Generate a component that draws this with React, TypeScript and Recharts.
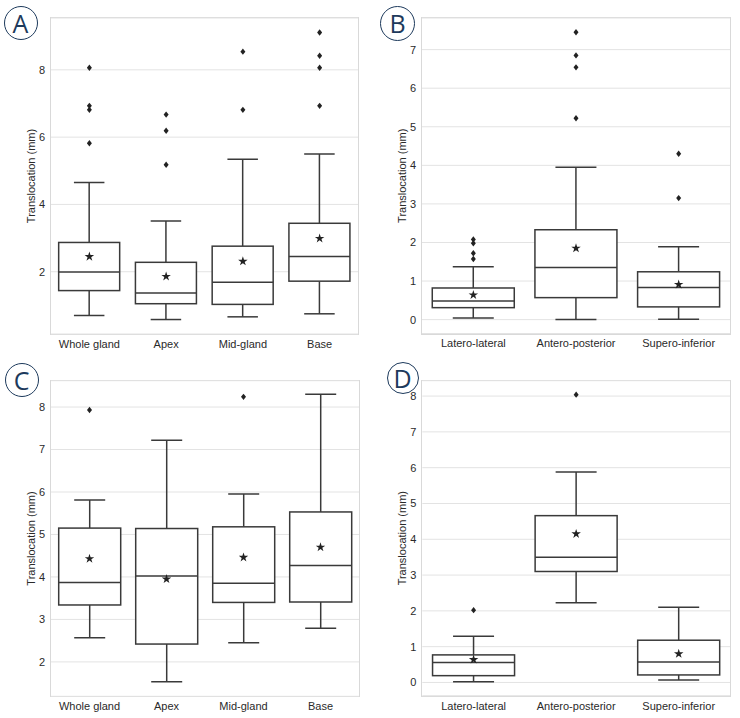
import React from 'react';
import { ComposedChart, Bar, Scatter, XAxis, YAxis, CartesianGrid, Symbols } from 'recharts';

const glandGroups = ['Whole gland', 'Apex', 'Mid-gland', 'Base'];
const axisGroups = ['Latero-lateral', 'Antero-posterior', 'Supero-inferior'];

// A: translocation by gland region
const lowA = [0.70, 0.58, 0.66, 0.75];
const q1A = [1.44, 1.05, 1.03, 1.72];
const medA = [1.99, 1.37, 1.69, 2.45];
const q3A = [2.87, 2.28, 2.76, 3.44];
const highA = [4.65, 3.51, 5.34, 5.50];
const meanA = [2.45, 1.86, 2.31, 2.99];
const outA = [[8.06, 6.93, 6.81, 5.82], [6.67, 6.19, 5.18], [8.54, 6.81], [9.11, 8.42, 8.06, 6.93]];
const ticksA = [2, 4, 6, 8];

// B: translocation by direction
const lowB = [0.04, 0.0, 0.01];
const q1B = [0.31, 0.57, 0.33];
const medB = [0.48, 1.35, 0.83];
const q3B = [0.82, 2.33, 1.24];
const highB = [1.37, 3.95, 1.89];
const meanB = [0.64, 1.85, 0.91];
const outB = [[2.08, 1.98, 1.72, 1.57], [7.45, 6.85, 6.54, 5.22], [4.30, 3.15]];
const ticksB = [0, 1, 2, 3, 4, 5, 6, 7];

// C: translocation by gland region
const lowC = [2.57, 1.53, 2.45, 2.79];
const q1C = [3.34, 2.42, 3.40, 3.41];
const medC = [3.87, 4.02, 3.85, 4.27];
const q3C = [5.15, 5.14, 5.18, 5.53];
const highC = [5.81, 7.22, 5.95, 8.30];
const meanC = [4.43, 3.95, 4.46, 4.70];
const outC = [[7.93], [], [8.24], []];
const ticksC = [2, 3, 4, 5, 6, 7, 8];

// D: translocation by direction
const lowD = [0.02, 2.23, 0.07];
const q1D = [0.19, 3.10, 0.21];
const medD = [0.56, 3.50, 0.57];
const q3D = [0.77, 4.66, 1.18];
const highD = [1.29, 5.88, 2.10];
const meanD = [0.64, 4.15, 0.80];
const outD = [[2.02], [8.04], []];
const ticksD = [0, 1, 2, 3, 4, 5, 6, 7, 8];

const LINE = '#3a3a3a';
const DOT = '#222';
const TEXT = '#2a2a2a';
const NAVY = '#1d3a5c';
const FONT = '"Liberation Sans", Arial, sans-serif';
const OUT_SLOTS = [0, 1, 2, 3];

function buildRows(groups: string[], low: number[], q1: number[], med: number[], q3: number[],
  high: number[], mean: number[], outliers: number[][]) {
  return groups.map((name, i) => {
    const row: Record<string, unknown> = {
      name, range: [low[i], high[i]], lo: low[i], hi: high[i],
      q1: q1[i], med: med[i], q3: q3[i], mean: mean[i],
    };
    outliers[i].forEach((v, k) => { row[`o${k}`] = v; });
    return row;
  });
}

function BoxShape(props: any) {
  const { x, y, width, height, payload } = props;
  const lo = payload.lo as number;
  const hi = payload.hi as number;
  const top = Math.min(y, y + height);
  const bot = Math.max(y, y + height);
  const py = (v: number) => bot - ((v - lo) / (hi - lo)) * (bot - top);
  const cx = x + width / 2;
  const cap = width / 4;
  const yq1 = py(payload.q1);
  const yq3 = py(payload.q3);
  return (
    <g stroke={LINE} strokeWidth={1.5}>
      <line x1={cx} x2={cx} y1={top} y2={yq3} />
      <line x1={cx} x2={cx} y1={yq1} y2={bot} />
      <line x1={cx - cap} x2={cx + cap} y1={top} y2={top} />
      <line x1={cx - cap} x2={cx + cap} y1={bot} y2={bot} />
      <rect x={x} y={yq3} width={width} height={yq1 - yq3} fill="#fff" />
      <line x1={x} x2={x + width} y1={py(payload.med)} y2={py(payload.med)} />
    </g>
  );
}

function StarShape(props: any) {
  return <Symbols cx={props.cx} cy={props.cy} type="star" size={28} fill={DOT} />;
}

function outlierShape(key: string) {
  return (props: any) => {
    if (props.payload?.[key] == null || !Number.isFinite(props.cy)) return <g />;
    const { cx, cy } = props;
    return <path d={`M${cx},${cy - 3.2}L${cx + 2.5},${cy}L${cx},${cy + 3.2}L${cx - 2.5},${cy}Z`} fill={DOT} />;
  };
}

interface PanelProps {
  letter: string;
  left: number;
  top: number;
  plot: { l: number; t: number; r: number; b: number };
  rows: Record<string, unknown>[];
  domain: [number, number];
  ticks: number[];
  letterPos: { x: number; y: number; d: number };
}

function BoxPanel({ letter, left, top, plot, rows, domain, ticks, letterPos }: PanelProps) {
  const W = 370;
  const H = 360;
  const yW = 50;
  const xH = 20;
  const margin = { left: plot.l - yW, top: plot.t, right: W - plot.r, bottom: H - plot.b - xH };
  return (
    <div style={{ position: 'absolute', left, top, width: W, height: H }}>
      <div style={{
        position: 'absolute', left: plot.l - 1, top: plot.t - 1, width: plot.r - plot.l,
        height: plot.b - plot.t, border: '1px solid #d9d9d9',
      }} />
      <div style={{
        position: 'absolute', left: letterPos.x - letterPos.d / 2, top: letterPos.y - letterPos.d / 2,
        width: letterPos.d - 3, height: letterPos.d - 3, borderRadius: '50%', border: `1.5px solid ${NAVY}`,
        color: NAVY, fontFamily: '"Open Sans", sans-serif', fontSize: 25, lineHeight: `${letterPos.d - 3}px`,
        textAlign: 'center',
      }}>{letter}</div>
      <div style={{ position: 'absolute', left: 0, top: 0 }}>
        <ComposedChart width={W} height={H} data={rows} margin={margin} barCategoryGap="10%">
          <CartesianGrid vertical={false} stroke="#e3e3e3" />
          <XAxis dataKey="name" type="category" height={xH} axisLine={false} tickLine={false} tickSize={0}
            tickMargin={6} interval={0} tick={{ fill: TEXT, fontSize: 11, fontFamily: FONT }} />
          <YAxis type="number" width={yW} domain={domain} allowDataOverflow ticks={ticks} interval={0}
            axisLine={false} tickLine={false} tickSize={0} tickMargin={6}
            tick={{ fill: TEXT, fontSize: 11, fontFamily: FONT }}
            label={{
              value: 'Translocation (mm)', angle: -90, position: 'center', dx: 5,
              style: { fill: TEXT, fontSize: 11, fontFamily: FONT },
            }} />
          <Bar dataKey="range" shape={BoxShape} isAnimationActive={false} />
          {OUT_SLOTS.map((k) => (
            <Scatter key={k} dataKey={`o${k}`} shape={outlierShape(`o${k}`)} isAnimationActive={false} />
          ))}
          <Scatter dataKey="mean" shape={StarShape} isAnimationActive={false} />
        </ComposedChart>
      </div>
    </div>
  );
}

export default function App() {
  return (
    <div style={{ position: 'absolute', left: 0, top: 0, width: 740, height: 718, background: '#fff' }}>
      <BoxPanel letter="A" left={0} top={0} plot={{ l: 51, t: 18, r: 358, b: 334 }}
        rows={buildRows(glandGroups, lowA, q1A, medA, q3A, highA, meanA, outA)}
        domain={[0.15, 9.54]} ticks={ticksA} letterPos={{ x: 21, y: 23, d: 35 }} />
      <BoxPanel letter="B" left={370} top={0} plot={{ l: 52, t: 18, r: 360, b: 333.5 }}
        rows={buildRows(axisGroups, lowB, q1B, medB, q3B, highB, meanB, outB)}
        domain={[-0.36, 7.82]} ticks={ticksB} letterPos={{ x: 28, y: 23.5, d: 36 }} />
      <BoxPanel letter="C" left={0} top={358} plot={{ l: 51, t: 22.7, r: 359, b: 338.3 }}
        rows={buildRows(glandGroups, lowC, q1C, medC, q3C, highC, meanC, outC)}
        domain={[1.19, 8.62]} ticks={ticksC} letterPos={{ x: 22, y: 22, d: 35 }} />
      <BoxPanel letter="D" left={370} top={358} plot={{ l: 52.3, t: 22.7, r: 360, b: 337.7 }}
        rows={buildRows(axisGroups, lowD, q1D, medD, q3D, highD, meanD, outD)}
        domain={[-0.37, 8.43]} ticks={ticksD} letterPos={{ x: 33, y: 20, d: 33 }} />
    </div>
  );
}
